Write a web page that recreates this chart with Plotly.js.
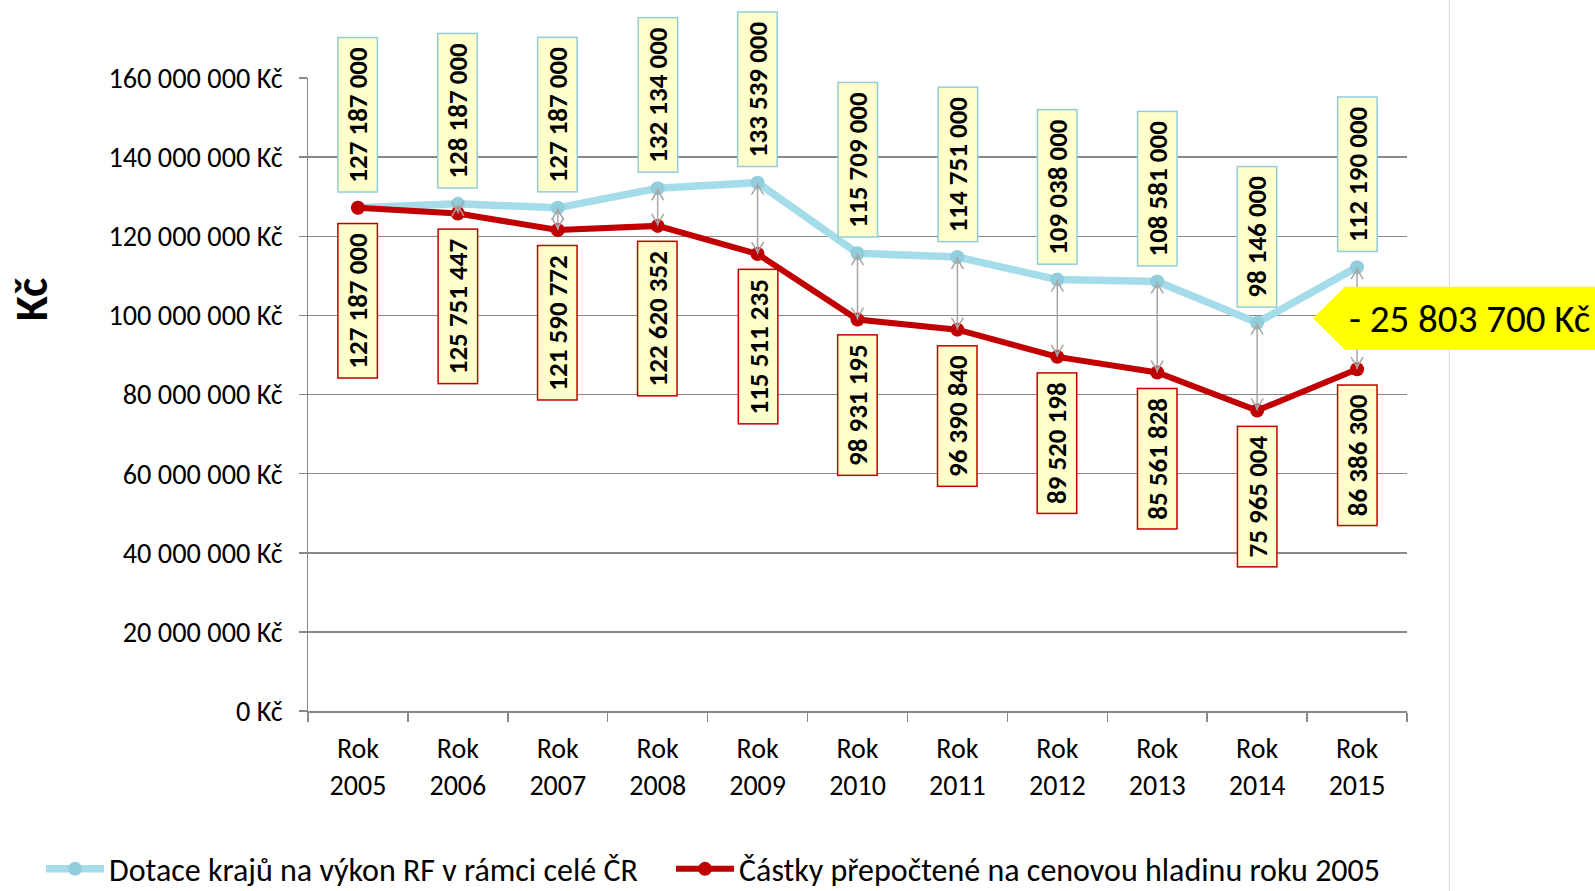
<!DOCTYPE html>
<html>
<head>
<meta charset="utf-8">
<script src="https://cdn.plot.ly/plotly-3.0.1.min.js"></script>
<style>html,body{margin:0;padding:0;background:#fff;}</style>
</head>
<body>
<div id="chart" style="width:1595px;height:891px;"></div>
<script>
// ---- data ----
var years = ['2005','2006','2007','2008','2009','2010','2011','2012','2013','2014','2015'];
var categories = years.map(function(y){ return 'Rok<br>' + y; });
var seriesNames = ['Dotace krajů na výkon RF v rámci celé ČR', 'Částky přepočtené na cenovou hladinu roku 2005'];
var dotace = [127187000, 128187000, 127187000, 132134000, 133539000, 115709000, 114751000, 109038000, 108581000, 98146000, 112190000];
var prepocet = [127187000, 125751447, 121590772, 122620352, 115511235, 98931195, 96390840, 89520198, 85561828, 75965004, 86386300];
var yTitle = 'Kč';
var currency = ' Kč';

// ---- helpers ----
function fmt(v) {
  var s = Math.round(Math.abs(v)).toString();
  var out = '';
  while (s.length > 3) { out = ' ' + s.slice(-3) + out; s = s.slice(0, -3); }
  out = s + out;
  return (v < 0 ? '- ' : '') + out;
}

var FONT = 'Carlito, Calibri, Liberation Sans, Arial, sans-serif';
var BLUE_LINE = '#A5DCE9', BLUE_MK = '#92CDDC', RED = '#C00000', GRID = '#898989', ARROW = '#A6A6A6';
var labelFont = {family: FONT, size: 27, color: '#000'};
var NB = '\u00A0';

var traces = [
  {x: categories, y: dotace, name: seriesNames[0], type: 'scatter', mode: 'lines+markers', legend: 'legend',
   line: {color: BLUE_LINE, width: 7.5}, marker: {color: BLUE_MK, size: 14}, hoverinfo: 'y'},
  {x: categories, y: prepocet, name: seriesNames[1], type: 'scatter', mode: 'lines+markers', legend: 'legend2',
   line: {color: RED, width: 6}, marker: {color: RED, size: 14}, hoverinfo: 'y'}
];

var annotations = [];
var shapes = [];

// right frame line
shapes.push({type: 'line', xref: 'paper', yref: 'paper', x0: 1.0385, x1: 1.0385, y0: -0.3, y1: 1.2,
  line: {color: '#D9D9D9', width: 1}, layer: 'below'});

for (var i = 0; i < categories.length; i++) {
  annotations.push({x: categories[i], y: dotace[i], xref: 'x', yref: 'y', text: '<b>' + NB + fmt(dotace[i]) + NB + '</b>',
    textangle: -90, showarrow: false, yanchor: 'bottom', yshift: 15, bgcolor: '#FFFFCC',
    bordercolor: BLUE_MK, borderwidth: 1.5, borderpad: 2.5, font: labelFont});
  annotations.push({x: categories[i], y: prepocet[i], xref: 'x', yref: 'y', text: '<b>' + NB + fmt(prepocet[i]) + NB + '</b>',
    textangle: -90, showarrow: false, yanchor: 'top', yshift: -15, bgcolor: '#FFFFCC',
    bordercolor: RED, borderwidth: 1.5, borderpad: 2.5, font: labelFont});
  if (dotace[i] !== prepocet[i]) {
    shapes.push({type: 'line', xref: 'x', yref: 'y', x0: i, x1: i, y0: dotace[i], y1: prepocet[i],
      line: {color: ARROW, width: 1.5}, layer: 'above'});
    shapes.push({type: 'path', xref: 'x', yref: 'y', xsizemode: 'pixel', ysizemode: 'pixel',
      xanchor: i, yanchor: dotace[i], path: 'M-6,-12 L0,-2 L6,-12', line: {color: ARROW, width: 1.5}, layer: 'above'});
    shapes.push({type: 'path', xref: 'x', yref: 'y', xsizemode: 'pixel', ysizemode: 'pixel',
      xanchor: i, yanchor: prepocet[i], path: 'M-6,12 L0,2 L6,12', line: {color: ARROW, width: 1.5}, layer: 'above'});
  }
}

// callout for the last year difference
var last = categories.length - 1;
var yMax = 160000000;
var diff = prepocet[last] - dotace[last];
var mid = (prepocet[last] + dotace[last]) / 2;
var calloutX = (last + 0.5) / categories.length;
var calloutY = mid / yMax;
shapes.push({type: 'path', xref: 'paper', yref: 'paper', xsizemode: 'pixel', ysizemode: 'pixel',
  xanchor: calloutX, yanchor: calloutY, path: 'M-44,0 L-12,31.5 L300,31.5 L300,-31.5 L-12,-31.5 Z',
  fillcolor: '#FFFF00', line: {width: 0}, layer: 'above'});
annotations.push({xref: 'paper', yref: 'paper', x: calloutX, y: calloutY, xanchor: 'left', yanchor: 'middle',
  xshift: -10, showarrow: false, text: fmt(diff) + currency,
  font: {family: FONT, size: 39, color: '#000'}});

// y-axis title
annotations.push({xref: 'paper', yref: 'paper', x: -0.252, y: 0.649, xanchor: 'center', yanchor: 'middle',
  showarrow: false, textangle: -90, text: '<b>' + yTitle + '</b>',
  font: {family: FONT, size: 46, color: '#000'}});

var legendFont = {family: FONT, size: 32, color: '#000'};
var layout = {
  width: 1595, height: 891,
  margin: {l: 308, r: 188, t: 78, b: 180, autoexpand: false},
  paper_bgcolor: '#fff', plot_bgcolor: '#fff',
  separators: ', ',
  showlegend: true,
  legend: {orientation: 'h', x: -0.2429, xanchor: 'left', y: -0.2497, yanchor: 'middle',
    font: legendFont, itemwidth: 58, bgcolor: 'rgba(0,0,0,0)'},
  legend2: {orientation: 'h', x: 0.3303, xanchor: 'left', y: -0.2497, yanchor: 'middle',
    font: legendFont, itemwidth: 58, bgcolor: 'rgba(0,0,0,0)'},
  xaxis: {type: 'category', range: [-0.5, 10.5], tickson: 'boundaries', ticks: 'outside', ticklen: 9,
    tickcolor: GRID, tickwidth: 1.5, showline: true, linecolor: GRID, linewidth: 1.5, showgrid: false,
    ticklabelstandoff: 12,
    tickfont: {family: FONT, size: 28, color: '#000'}, fixedrange: true},
  yaxis: {range: [0, yMax], tick0: 0, dtick: 20000000, showgrid: true, gridcolor: GRID, gridwidth: 1.5,
    showline: true, linecolor: GRID, linewidth: 1.5, ticks: 'outside', ticklen: 8, tickcolor: GRID, tickwidth: 1.5,
    tickformat: ',d', ticksuffix: currency, zeroline: false, ticklabelstandoff: 10,
    tickfont: {family: FONT, size: 28.3, color: '#000'}, fixedrange: true},
  annotations: annotations,
  shapes: shapes
};

Plotly.newPlot('chart', traces, layout, {displayModeBar: false, staticPlot: true});
</script>
</body>
</html>
